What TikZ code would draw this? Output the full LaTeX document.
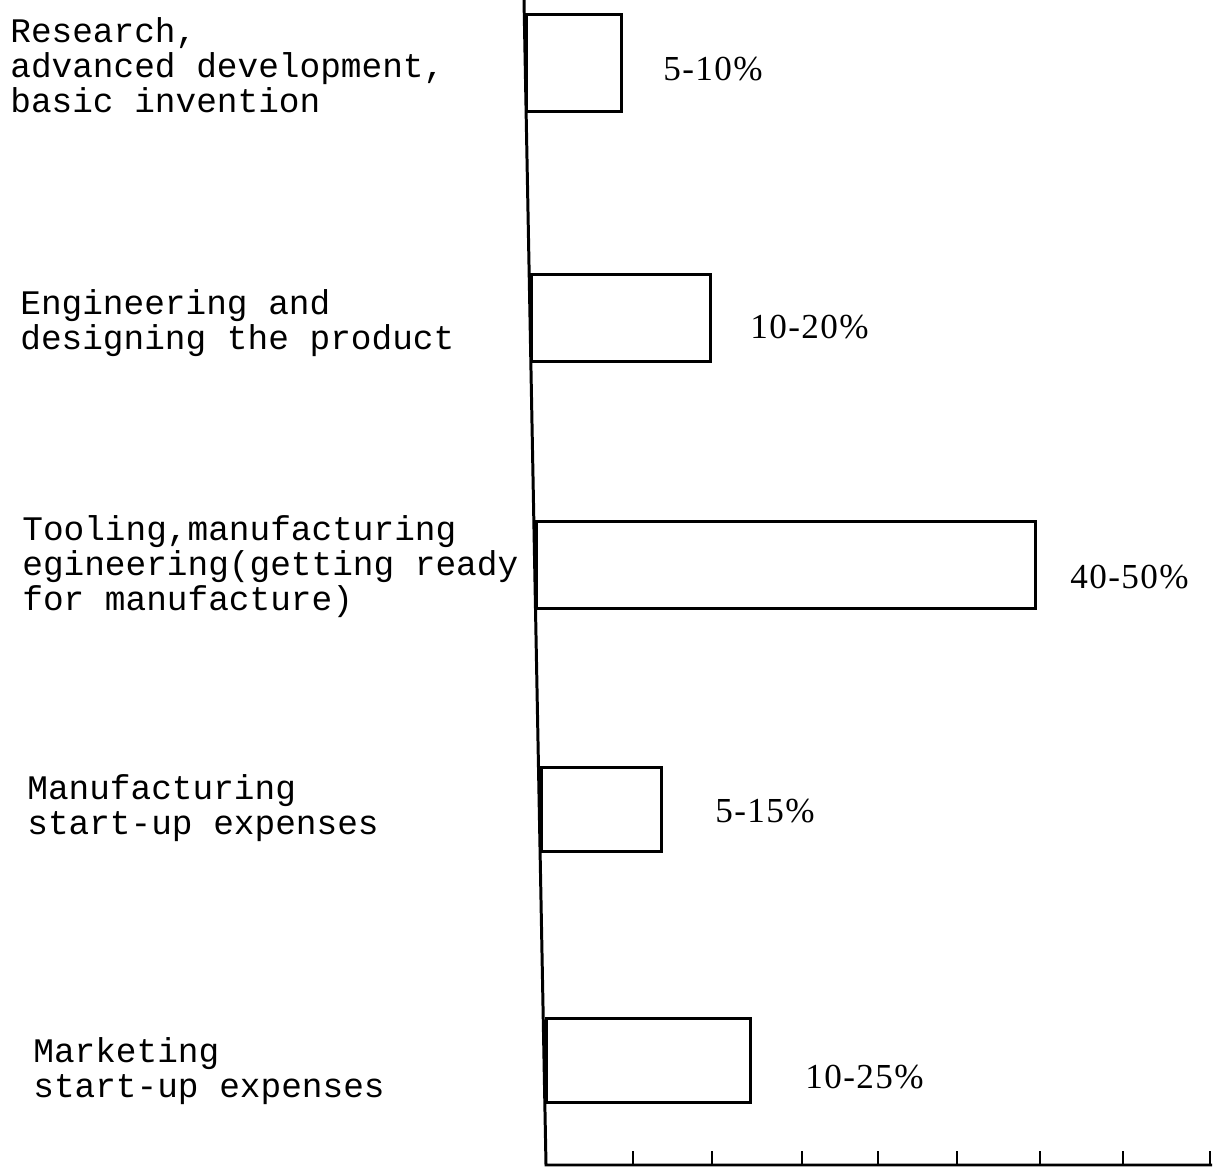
\documentclass[tikz,border=0pt]{standalone}
\usepackage{fontspec}
\setmonofont{Liberation Mono}
\newfontfamily\pctfont[LetterSpace=4]{Liberation Serif}
\begin{document}
\begin{tikzpicture}
        [x=0.02cm, y=-0.02cm,
        bar/.style={draw, rectangle, line width=1.7pt, anchor=north west, inner sep=0pt},
        item/.style={anchor=west, align=left, inner sep=0pt, font=\ttfamily\fontsize{19.6}{19.9}\selectfont},
        pct/.style={anchor=west, inner sep=0pt, font=\pctfont\fontsize{20}{22}\selectfont}]
        \useasboundingbox (0,0) rectangle (1215,1169);
        \coordinate (top) at (524,0);
        \coordinate (origin) at (546,1165);
        \coordinate (end) at (1212,1165);

        \node[bar, minimum width=1.9cm, minimum height=1.94cm] (research) at (525,13) {};
        \node[bar, minimum width=3.58cm, minimum height=1.74cm] (design) at (530,273) {};
        \node[bar, minimum width=9.98cm, minimum height=1.74cm] (tooling) at (535,520) {};
        \node[bar, minimum width=2.4cm, minimum height=1.68cm] (startup) at (540,766) {};
        \node[bar, minimum width=4.08cm, minimum height=1.68cm] (marketing) at (545,1017) {};

        \node[item] (researchText) at (10,65) {Research,\\advanced development,\\basic invention};
        \node[item] (designText) at (20,323) {Engineering and\\designing the product};
        \node[item] (toolingText) at (22,567) {Tooling,manufacturing\\egineering(getting ready\\for manufacture)};
        \node[item] (startupText) at (27,808) {Manufacturing\\start-up expenses};
        \node[item] (marketingText) at (33,1071) {Marketing\\start-up expenses};

        \node[pct] (researchPct) at (663,69) {5-10\%};
        \node[pct] (designPct) at (750,327) {10-20\%};
        \node[pct] (toolingPct) at (1070,577) {40-50\%};
        \node[pct] (startupPct) at (715,811) {5-15\%};
        \node[pct] (marketingPct) at (805,1077) {10-25\%};

        \draw[line width=1.7pt] (top) -- (origin) -- (end);
        \foreach \x in {633,712,802,878,957,1040,1123,1210}
            \draw[line width=1.4pt] (\x,1165) -- (\x,1151);
    \end{tikzpicture}
\end{document}
